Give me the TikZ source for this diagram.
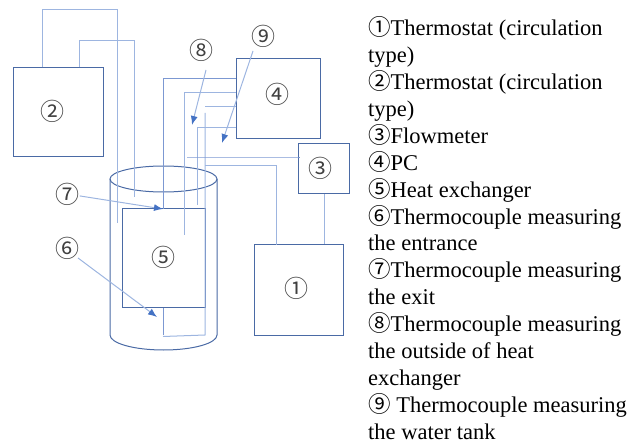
\documentclass[tikz,border=0pt]{standalone}
\usepackage{fontspec}
\setmainfont{Liberation Serif}
\newfontfamily\circfont{Noto Sans CJK JP}
\usetikzlibrary{arrows.meta,positioning}
\definecolor{boxblue}{HTML}{4A6AA5}
\definecolor{wireblue}{HTML}{9DB5E0}
\definecolor{wiredark}{HTML}{7C98D2}
\definecolor{tipblue}{HTML}{4472C4}
\begin{document}
\begin{tikzpicture}[x=1pt,y=-1pt,
    unit/.style={draw=boxblue, line width=1pt, rectangle, inner sep=0pt},
    num/.style={inner sep=0pt, font=\circfont\fontsize{24}{24}\selectfont, text=black!75},
    wire/.style={draw=wireblue, line width=1pt},
    darkwire/.style={draw=wiredark, line width=0.8pt},
    shell/.style={draw=boxblue, line width=1pt},
    pointer/.style={draw=wireblue, line width=1pt, -{Latex[length=9pt,width=7pt,color=tipblue]}}
    ]
    \useasboundingbox (0,0) rectangle (642,443);

    \node[unit, minimum width=89.5pt, minimum height=89.5pt] (q_2) at (58.25,112.25) {};
    \node[unit, minimum width=84pt, minimum height=79.5pt] (q_4) at (278,98.75) {};
    \node[unit, minimum width=51pt, minimum height=50pt] (q_3) at (324,169) {};
    \node[unit, minimum width=89pt, minimum height=90pt] (q_1) at (298.5,290) {};
    \node[unit, minimum width=83pt, minimum height=99pt] (q_5) at (163.5,258.5) {};

    % tank
    \draw[shell] (163.5,179) ellipse [x radius=53.5, y radius=13];
    \draw[shell] (110,179) -- (110,335) arc [start angle=180, end angle=0, x radius=53.5, y radius=15] -- (217,179);

    \node[num] (l_1) at (296,288) {①};
    \node[num] (l_2) at (52,111) {②};
    \node[num] (l_3) at (320.5,168) {③};
    \node[num] (l_4) at (277,94.5) {④};
    \node[num] (l_5) at (163,257) {⑤};
    \node[num] (l_6) at (67,248) {⑥};
    \node[num] (l_7) at (67.5,194) {⑦};
    \node[num] (l_8) at (201,50) {⑧};
    \node[num] (l_9) at (263,36) {⑨};

    % free ends of the wires
    \coordinate (e_a) at (117,223);
    \coordinate (e_b) at (134,197);
    \coordinate (e_c) at (184,235);
    \coordinate (e_d) at (205,113);
    \coordinate (e_e) at (197,205);
    \coordinate (e_f) at (187,157);
    \coordinate (e_g) at (205,166);
    \coordinate (e_h) at (205,107);
    \coordinate (e_i) at (163,336.5);
    \coordinate (e_j) at (205,335);

    \draw[wire] (42,67.5) |- (117,10) -- (e_a);
    \draw[wire] (79,67.5) |- (134,41) -- (e_b);
    \draw[darkwire] (236,78) -| (163,209);
    \draw[wire] (236,93) -| (e_c);
    \draw[wire] (e_h) -- (236,107);
    \draw[wire] (e_d) -- (e_j) -- (e_i);
    \draw[darkwire] (q_5.south) -- (163.5,335);
    \draw[wire] (236,128) -| (e_e);
    \draw[darkwire] (e_f) -- (q_3.west |- e_f) -- ++(2,0);
    \draw[wire] (e_g) -| (276,245);
    \draw[wire] (q_3.south) -- (q_3.south |- q_1.north);

    % thermocouple pointers
    \coordinate (a_6) at (157,317);
    \coordinate (a_7) at (163,209);
    \coordinate (a_8) at (192,125);
    \coordinate (a_9) at (222,143);
    \draw[pointer] ([shift={(11pt,-10pt)}]l_6.center) -- (a_6);
    \draw[pointer] (l_7) -- (a_7);
    \draw[pointer] ([shift={(5pt,-20pt)}]l_8.center) -- (a_8);
    \draw[pointer] ([shift={(-10pt,-15pt)}]l_9.center) -- (a_9);

    \node[anchor=north west, inner sep=0pt, align=left, font=\fontsize{22.5}{26.9}\selectfont] (legend) at (368,16.5) {%
        {\circfont ①}Thermostat (circulation\\
        type)\\
        {\circfont ②}Thermostat (circulation\\
        type)\\
        {\circfont ③}Flowmeter\\
        {\circfont ④}PC\\
        {\circfont ⑤}Heat exchanger\\
        {\circfont ⑥}Thermocouple measuring\\
        the entrance\\
        {\circfont ⑦}Thermocouple measuring\\
        the exit\\
        {\circfont ⑧}Thermocouple measuring\\
        the outside of heat\\
        exchanger\\
        {\circfont ⑨} Thermocouple measuring\\
        the water tank};
\end{tikzpicture}
\end{document}
